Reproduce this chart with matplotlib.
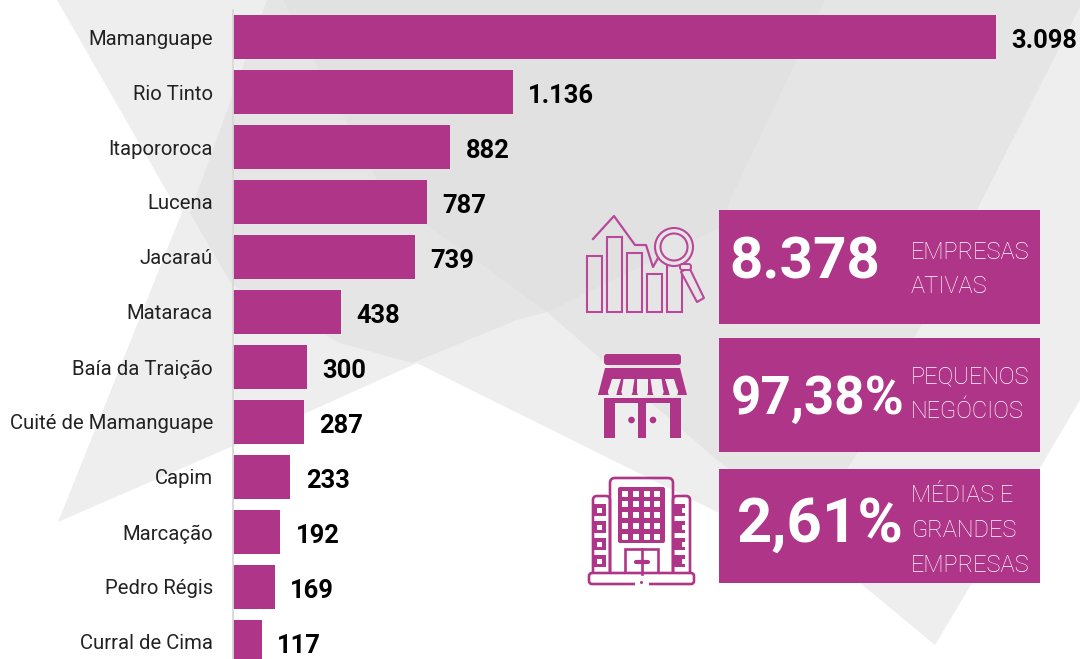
import matplotlib
matplotlib.use("Agg")
import matplotlib.pyplot as plt
from matplotlib.patches import Polygon, Rectangle, Circle, Ellipse, FancyBboxPatch

plt.rcParams['font.family'] = ['Roboto', 'DejaVu Sans']

# dados
municipios = ["Mamanguape", "Rio Tinto", "Itapororoca", "Lucena", "Jacaraú", "Mataraca",
              "Baía da Traição", "Cuité de Mamanguape", "Capim", "Marcação", "Pedro Régis",
              "Curral de Cima"]
empresas = [3098, 1136, 882, 787, 739, 438, 300, 287, 233, 192, 169, 117]

destaques = ["8.378", "97,38%", "2,61%"]
destaques_x = [804.5, 818, 820.5]
destaques_y = [257, 394, 519]
destaques_size = [42, 38.2, 44.5]
legendas = [["EMPRESAS", "ATIVAS"], ["PEQUENOS", "NEGÓCIOS"], ["MÉDIAS E", "GRANDES", "EMPRESAS"]]
legendas_y = [[249.5, 284], [374, 409], [493, 528, 563]]
caixas_y = [210, 338, 469]

ROXO = "#af3588"
LINHA = "#b9479a"
CINZA1 = "#eeeeee"
CINZA2 = "#e5e5e5"
CINZA3 = "#e1e1e1"

fig = plt.figure(figsize=(10.8, 6.59), dpi=100, facecolor="white")

# fundo, em pixels
bg = fig.add_axes([0, 0, 1, 1], zorder=0)
bg.set_xlim(0, 1080)
bg.set_ylim(659, 0)
bg.axis("off")
bg.add_patch(Polygon([(57, 0), (170, 197), (182, 212), (107, 400), (58, 522), (233, 446), (417, 363),
                      (860, 583), (935, 645), (972, 583), (1040, 468), (1080, 400), (1080, 0)],
                     fc=CINZA1, ec="none"))
bg.add_patch(Polygon([(267, 0), (190, 213), (232, 285), (340, 343), (412, 363), (517, 320), (547, 312),
                      (717, 460), (810, 530), (857, 453), (920, 327), (977, 210), (1080, 7), (1080, 0)],
                     fc=CINZA2, ec="none"))
bg.add_patch(Polygon([(283, 0), (377, 180), (430, 227), (547, 312), (721, 227), (730, 200), (825, 0)],
                     fc=CINZA3, ec="none"))

# barras
ax = fig.add_axes([233 / 1080, 0, 847 / 1080, 1], zorder=1)
ax.patch.set_alpha(0)
ax.barh(municipios, empresas, height=0.8, color=ROXO)
ax.set_xlim(0, 847 / 0.2463)
ax.set_ylim(11.31, -0.673)
ax.xaxis.set_visible(False)
for s in ["top", "right", "bottom"]:
    ax.spines[s].set_visible(False)
ax.spines["left"].set_color("#d8d8d8")
ax.spines["left"].set_linewidth(1.3)
ax.spines["left"].set_bounds(-0.49, 11.31)
ax.tick_params(axis="y", length=0, pad=14.4, labelsize=14.6, labelcolor="#222222")
for lb in ax.get_yticklabels():
    lb.set_va("center_baseline")
for i, v in enumerate(empresas):
    ax.annotate(f"{v:,}".replace(",", "."), (v, i), xytext=(11.2, -1), textcoords="offset points",
                va="center_baseline", ha="left", fontsize=18.4, fontweight="bold", color="black")

# caixas e icones
ov = fig.add_axes([0, 0, 1, 1], zorder=2)
ov.set_xlim(0, 1080)
ov.set_ylim(659, 0)
ov.axis("off")

for i in range(3):
    ov.add_patch(Rectangle((719, caixas_y[i]), 321, 114, fc=ROXO, ec="none"))
    ov.text(destaques_x[i], destaques_y[i], destaques[i], color="white", fontsize=destaques_size[i],
            fontweight="bold", ha="center", va="center_baseline")
    for t, y in zip(legendas[i], legendas_y[i]):
        ov.text(911, y, t, color="white", fontsize=17, fontweight="light", ha="left", va="center_baseline")


def caixa_redonda(x, y, w, h, r, **kw):
    ov.add_patch(FancyBboxPatch((x + r, y + r), w - 2 * r, h - 2 * r, boxstyle=f"round,pad={r},rounding_size={r}", **kw))


# icone grafico
for x0, y0 in zip([587, 607, 627, 647, 667], [256, 237, 253, 274, 265]):
    ov.add_patch(Rectangle((x0, y0), 15, 312 - y0, fc="none", ec=LINHA, lw=1.5))
ov.plot([593, 614, 635, 646, 653, 658], [239, 216, 245, 245, 267, 258], color=LINHA, lw=1.6)
ov.add_patch(Circle((674, 247), 19, fc=CINZA2, ec=LINHA, lw=1.5))
ov.add_patch(Circle((674, 247), 13.5, fc="none", ec=LINHA, lw=1.5))
ov.add_patch(Polygon([(681, 272), (689, 267), (704, 298), (697, 302)], fc=CINZA2, ec=LINHA, lw=1.5, joinstyle="round"))
caixa_redonda(680, 264, 11, 6, 2.5, fc=CINZA2, ec=LINHA, lw=1.4)

# icone loja
caixa_redonda(604, 354, 77, 11, 3, fc=ROXO, ec="none")
ov.add_patch(Polygon([(605, 368), (680, 368), (687, 395), (598, 395)], fc=ROXO, ec="none", joinstyle="round"))
for xc, w, dx in zip([612.5, 627, 642.5, 658, 673.5], [9, 11, 11, 11, 9], [4, 2, 0, -2, -4]):
    ov.add_patch(Polygon([(xc - w / 2 + dx, 379), (xc + w / 2 + dx, 379), (xc + w / 2, 392), (xc - w / 2, 392)],
                         fc=CINZA1, ec="none"))
    ov.add_patch(Ellipse((xc, 392), w, 10, fc=CINZA1, ec="none"))
ov.add_patch(Rectangle((604, 398), 77, 5, fc=ROXO, ec="none"))
for x0, w in zip([604, 638, 670], [10.5, 8, 11]):
    ov.add_patch(Rectangle((x0, 398), w, 40, fc=ROXO, ec="none"))
ov.add_patch(Circle((631.5, 420), 3.3, fc=ROXO, ec="none"))
ov.add_patch(Circle((653, 420), 3.3, fc=ROXO, ec="none"))

# icone predio
caixa_redonda(610, 478, 63, 100, 5, fc="none", ec=ROXO, lw=1.9)
caixa_redonda(593, 496, 17, 80, 4, fc="none", ec=ROXO, lw=1.9)
caixa_redonda(673, 496, 17, 80, 4, fc="none", ec=ROXO, lw=1.9)
caixa_redonda(618, 487, 47, 56, 2, fc=ROXO, ec="none")
for xc in [625.3, 636, 646.7, 657.3]:
    for yc in [494, 504, 515, 526, 537]:
        ov.add_patch(Rectangle((xc - 3.2, yc - 3.2), 6.4, 6.4, fc="white", ec="none"))
for xc, xq in zip([594, 673], [599, 684]):
    for yc in [510, 527, 544, 561]:
        ov.add_patch(Rectangle((min(xc, xq - 5), yc - 6), 12, 12, fc=ROXO, ec="none"))
        ov.add_patch(Rectangle((xq - 2.5, yc - 2.5), 5, 5, fc="white", ec="none"))
ov.add_patch(Rectangle((625, 549), 33, 25, fc="white", ec=ROXO, lw=1.9))
ov.plot([641.7, 641.7], [549, 574], color=ROXO, lw=1.9)
ov.plot([636, 648], [562, 562], color=ROXO, lw=3, solid_capstyle="round")
caixa_redonda(589, 573, 105, 11, 3, fc="white", ec=ROXO, lw=1.9)
ov.add_patch(Rectangle((635, 581), 14, 5, fc="white", ec="none"))
ov.add_patch(Circle((641.5, 582.5), 1.5, fc=ROXO, ec="none"))

fig.savefig("out.png", dpi=100)
